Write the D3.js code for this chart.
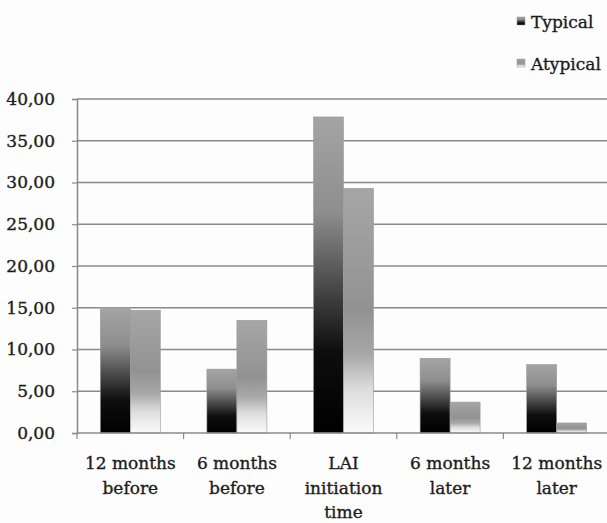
<!DOCTYPE html>
<html>
<head>
<meta charset="utf-8">
<script src="https://cdn.jsdelivr.net/npm/d3@7"></script>
<style>
  html, body { margin: 0; padding: 0; background: #fdfdfd; }
  svg { display: block; }
  text { font-family: "DejaVu Serif", "Liberation Serif", serif; fill: #1c1c1c; stroke: #1c1c1c; stroke-width: 0.35px; }
</style>
</head>
<body>
<svg id="chart" width="607" height="523"></svg>
<script>
// Category labels (multi-line) along the x axis
const categories = [
  ["12 months", "before"],
  ["6 months", "before"],
  ["LAI", "initiation", "time"],
  ["6 months", "later"],
  ["12 months", "later"]
];
const seriesNames = ["Typical", "Atypical"];
const typicalValues = [15.05, 7.65, 37.85, 8.95, 8.2];
const atypicalValues = [14.7, 13.5, 29.3, 3.7, 1.2];
const yTicks = [0, 5, 10, 15, 20, 25, 30, 35, 40];

const svg = d3.select("#chart");
const margin = { left: 77, top: 99, bottom: 90 };
const plotW = 533, plotH = 523 - margin.top - margin.bottom;

const defs = svg.append("defs");
function gradient(id, stops) {
  const g = defs.append("linearGradient").attr("id", id)
    .attr("x1", 0).attr("y1", 0).attr("x2", 0).attr("y2", 1);
  stops.forEach(([o, c]) => g.append("stop").attr("offset", o).attr("stop-color", c));
}
gradient("gTypical", [[0, "#a4a4a4"], [0.3, "#8e8e8e"], [0.55, "#454545"], [0.74, "#0e0e0e"], [1, "#000"]]);
gradient("gAtypical", [[0, "#a6a6a6"], [0.5, "#929292"], [0.68, "#a8a8a8"], [0.82, "#dcdcdc"], [1, "#fbfbfb"]]);
const fills = { Typical: "url(#gTypical)", Atypical: "url(#gAtypical)" };

const x0 = d3.scaleBand().domain(d3.range(categories.length)).range([margin.left, margin.left + plotW]).padding(0);
const x1 = d3.scaleBand().domain(seriesNames).range([0, x0.bandwidth()]).paddingInner(0).paddingOuter(0.777);
const y = d3.scaleLinear().domain([0, 40]).range([margin.top + plotH, margin.top]);

const g = svg.append("g");

// Horizontal gridlines
g.selectAll("line.grid").data(yTicks.filter(d => d > 0)).join("line")
  .attr("x1", margin.left).attr("x2", 607)
  .attr("y1", d => y(d)).attr("y2", d => y(d))
  .attr("stroke", "#8a8a8a").attr("stroke-width", 1.5);

// Bars
const rows = categories.map((c, i) => ({ i, Typical: typicalValues[i], Atypical: atypicalValues[i] }));
g.selectAll("g.grp").data(rows).join("g")
  .attr("transform", d => `translate(${x0(d.i)},0)`)
  .selectAll("rect").data(d => seriesNames.map(s => ({ s, v: d[s] }))).join("rect")
  .attr("x", d => x1(d.s)).attr("width", x1.bandwidth())
  .attr("y", d => y(d.v)).attr("height", d => y(0) - y(d.v))
  .attr("fill", d => fills[d.s])
  .attr("stroke", "#9a9a9a").attr("stroke-width", 0.6);

// Y axis
const yAxis = d3.axisLeft(y).tickValues(yTicks).tickSize(5).tickPadding(17)
  .tickFormat(d => d3.format(".2f")(d).replace(".", ","));
const ya = svg.append("g").attr("transform", `translate(${margin.left},0)`).call(yAxis);
ya.select(".domain").attr("stroke", "#8a8a8a").attr("stroke-width", 1.5);
ya.selectAll(".tick line").attr("stroke", "#8a8a8a").attr("stroke-width", 1.2);
ya.selectAll(".tick text").attr("font-size", 17).attr("font-family", "DejaVu Serif").attr("fill", "#1c1c1c");

// X axis with category ticks at band boundaries
const xa = svg.append("g");
xa.append("line").attr("x1", margin.left).attr("x2", 607)
  .attr("y1", y(0)).attr("y2", y(0)).attr("stroke", "#8a8a8a").attr("stroke-width", 1.5);
xa.selectAll("line.tk").data(d3.range(categories.length)).join("line")
  .attr("x1", d => x0(d)).attr("x2", d => x0(d))
  .attr("y1", y(0)).attr("y2", y(0) + 6)
  .attr("stroke", "#8a8a8a").attr("stroke-width", 1.2);

const labels = xa.selectAll("text.cat").data(categories).join("text")
  .attr("text-anchor", "middle").attr("font-size", 17)
  .attr("x", (d, i) => x0(i) + x0.bandwidth() / 2);
labels.selectAll("tspan").data(d => d).join("tspan")
  .attr("x", function () { return this.parentNode.getAttribute("x"); })
  .attr("y", (d, i) => 469 + i * 24.5)
  .text(d => d);

// Legend
const legend = svg.append("g");
seriesNames.forEach((s, i) => {
  const ly = 28 + i * 42;
  legend.append("rect").attr("x", 517).attr("y", ly - 11).attr("width", 8).attr("height", 8)
    .attr("fill", fills[s]).attr("stroke", "#999").attr("stroke-width", 0.5);
  legend.append("text").attr("x", 531).attr("y", ly).attr("font-size", 17).text(s);
});
</script>
</body>
</html>
